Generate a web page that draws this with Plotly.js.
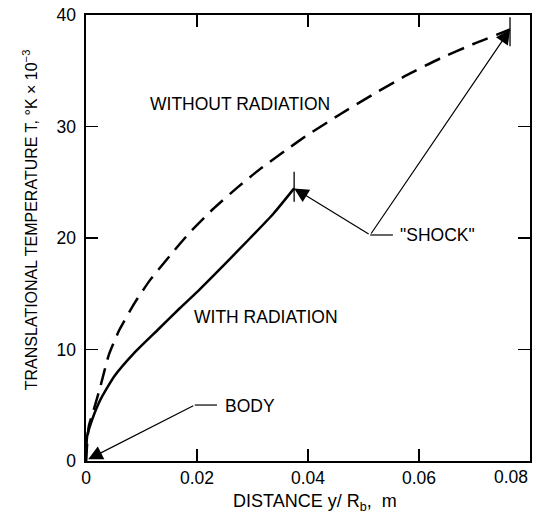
<!DOCTYPE html>
<html>
<head>
<meta charset="utf-8">
<script src="https://cdn.plot.ly/plotly-3.0.1.min.js"></script>
<style>html,body{margin:0;padding:0;background:#fff;}#chart{width:541px;height:518px;}</style>
</head>
<body>
<div id="chart"></div>
<script>
// Without radiation (dashed)
const xWithout = [0, 0.0005, 0.0014, 0.0026, 0.0041, 0.0060, 0.0088, 0.0115, 0.0151, 0.0187, 0.0229, 0.0272, 0.0314, 0.0358, 0.0398, 0.0458, 0.0518, 0.0578, 0.0638, 0.0698, 0.0764];
const yWithout = [0, 3.1, 4.6, 6.7, 9.5, 11.75, 14.2, 16.2, 18.4, 20.5, 22.6, 24.5, 26.2, 27.8, 29.2, 31.1, 32.9, 34.6, 36.1, 37.4, 38.7];
// With radiation (solid)
const xWith = [0, 0.0002, 0.0011, 0.0026, 0.0051, 0.0087, 0.0129, 0.0169, 0.0205, 0.0247, 0.0296, 0.0338, 0.0375];
const yWith = [0, 2.2, 3.7, 5.5, 7.6, 9.7, 11.75, 13.7, 15.4, 17.5, 20.0, 22.2, 24.45];

const xTickVals = [0, 0.02, 0.04, 0.06, 0.08];
const xTickText = ['0', '0.02', '0.04', '0.06', '0.08'];
const yTickVals = [0, 10, 20, 30, 40];
const yTickText = ['0', '10', '20', '30', '40'];

const labelText = ['WITHOUT RADIATION', 'WITH RADIATION', 'BODY', '"SHOCK"'];
const xTitle = 'DISTANCE y/ R<sub>b</sub>,  m';
const yTitle = 'TRANSLATIONAL TEMPERATURE T, °K × 10<sup>−3</sup>';

const FONT = 'Liberation Sans, Arial, sans-serif';

const xsEnd = xWith[xWith.length - 1], ysEnd = yWith[yWith.length - 1];
const xdEnd = xWithout[xWithout.length - 1], ydEnd = yWithout[yWithout.length - 1];
const lastX = xTickVals.length - 1;

const traces = [
  {x: xWithout, y: yWithout, mode: 'lines', line: {color: '#000', width: 2.5, dash: '17px,9px', shape: 'spline', smoothing: 0.5}, hoverinfo: 'skip'},
  {x: xWith, y: yWith, mode: 'lines', line: {color: '#000', width: 2.5, shape: 'spline', smoothing: 0.5}, hoverinfo: 'skip'}
];

const shockTail = [0.0512, 20.27];
const bodyTail = [0.0196, 5.02];

const arrowStyle = {showarrow: true, arrowhead: 2, arrowsize: 2.4, arrowwidth: 1.2, arrowcolor: '#000', axref: 'x', ayref: 'y', xref: 'x', yref: 'y', text: ''};
const labelFont = {family: FONT, size: 17.5, color: '#000'};
const tickFont = {family: FONT, size: 17.5, color: '#000'};

const layout = {
  width: 541, height: 518,
  margin: {l: 86, r: 11, t: 15, b: 57},
  paper_bgcolor: '#fff', plot_bgcolor: '#fff',
  showlegend: false,
  font: {family: FONT, color: '#000', size: 17},
  xaxis: {
    range: [0, 0.08], tickvals: xTickVals,
    ticktext: xTickText.map((t, i) => i === lastX ? '' : t),
    ticks: 'inside', ticklen: 12, tickwidth: 1.5, tickcolor: '#000',
    showline: true, linewidth: 1.6, linecolor: '#000', mirror: 'ticks',
    showgrid: false, zeroline: false, ticklabelstandoff: 0,
    tickfont: tickFont
  },
  yaxis: {
    range: [0, 40], tickvals: yTickVals, ticktext: yTickText,
    ticks: 'inside', ticklen: 12, tickwidth: 1.5, tickcolor: '#000',
    showline: true, linewidth: 1.6, linecolor: '#000', mirror: 'ticks',
    showgrid: false, zeroline: false, ticklabelstandoff: 5,
    tickfont: tickFont
  },
  shapes: [
    {type: 'line', xref: 'x', yref: 'y', x0: xsEnd, x1: xsEnd, y0: ysEnd - 1.2, y1: ysEnd + 1.5, line: {color: '#000', width: 1.3}},
    {type: 'line', xref: 'x', yref: 'y', x0: xdEnd, x1: xdEnd, y0: ydEnd - 1.5, y1: ydEnd + 1.1, line: {color: '#000', width: 1.3}},
    {type: 'line', xref: 'x', yref: 'y', x0: shockTail[0], x1: 0.0553, y0: shockTail[1], y1: shockTail[1], line: {color: '#000', width: 1.2}},
    {type: 'line', xref: 'x', yref: 'y', x0: bodyTail[0], x1: 0.0236, y0: bodyTail[1], y1: bodyTail[1], line: {color: '#000', width: 1.2}}
  ],
  annotations: [
    {x: 0.0112, y: 32.0, xref: 'x', yref: 'y', xanchor: 'left', yanchor: 'middle', text: labelText[0], showarrow: false, font: labelFont},
    {x: 0.0191, y: 12.9, xref: 'x', yref: 'y', xanchor: 'left', yanchor: 'middle', text: labelText[1], showarrow: false, font: labelFont},
    {x: 0.0247, y: 4.95, xref: 'x', yref: 'y', xanchor: 'left', yanchor: 'middle', text: labelText[2], showarrow: false, font: labelFont},
    {x: 0.0563, y: 20.27, xref: 'x', yref: 'y', xanchor: 'left', yanchor: 'middle', text: labelText[3], showarrow: false, font: labelFont},
    {x: xTickVals[lastX], y: -0.036, xref: 'x', yref: 'paper', xanchor: 'right', yanchor: 'middle', text: xTickText[lastX], showarrow: false, font: tickFont},
    {x: 0.5158, y: -0.092, xref: 'paper', yref: 'paper', xanchor: 'center', yanchor: 'middle', text: xTitle, showarrow: false, font: {family: FONT, size: 18, color: '#000'}},
    {x: -0.126, y: 0.54, xref: 'paper', yref: 'paper', xanchor: 'center', yanchor: 'middle', textangle: -90, text: yTitle, showarrow: false, font: {family: FONT, size: 16, color: '#000'}},
    Object.assign({}, arrowStyle, {x: 0.0004, y: 0.15, ax: bodyTail[0], ay: bodyTail[1]}),
    Object.assign({}, arrowStyle, {x: xsEnd, y: ysEnd, ax: shockTail[0], ay: shockTail[1]}),
    Object.assign({}, arrowStyle, {x: xdEnd, y: ydEnd, ax: shockTail[0], ay: shockTail[1]})
  ]
};

Plotly.newPlot('chart', traces, layout, {staticPlot: true, displayModeBar: false});
</script>
</body>
</html>
